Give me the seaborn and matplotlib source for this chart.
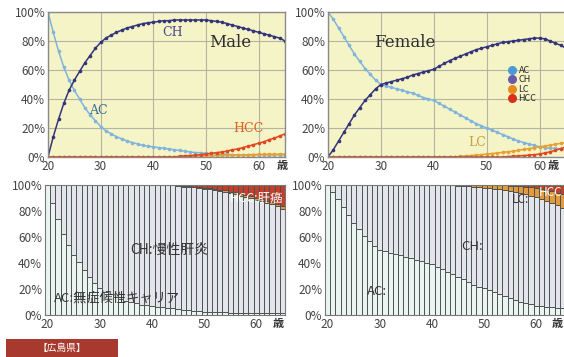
import matplotlib.pyplot as plt
from matplotlib.patches import Rectangle
from matplotlib.lines import Line2D
from matplotlib.ticker import PercentFormatter
import pandas as pd
import seaborn as sns

# ages 20..65, one value per year (% of carriers in each stage)
ages = list(range(20, 66))

male_ac = [100, 86, 73, 62, 53, 46, 40, 34, 29, 25,
           21, 18, 16, 14, 12.5, 11, 10, 9, 8, 7.5,
           7, 6.5, 6, 5.5, 5, 4.5, 4, 3.5, 3, 3,
           2.5, 2.5, 2, 2, 2, 1.5, 1.5, 1.5, 1.5, 1.5,
           1.5, 1.5, 1.5, 1.5, 1.5, 1.5]
male_ch = [0, 14, 26, 37, 46, 53, 59, 65, 70, 75,
           79, 82, 84, 86, 87.5, 89, 90, 91, 92, 92.5,
           93, 93.5, 94, 94, 94.5, 94.5, 94.5, 94.5, 94.5, 94.5,
           94.5, 94, 93.5, 93, 92, 91, 90, 89, 88, 87,
           86, 85, 84, 83, 82, 80]
male_lc = [0, 0, 0, 0, 0, 0, 0, 0, 0, 0,
           0, 0, 0, 0, 0, 0, 0, 0, 0, 0,
           0, 0, 0, 0, 0, 0.3, 0.4, 0.5, 0.6, 0.7,
           0.8, 0.9, 1, 1.1, 1.2, 1.3, 1.4, 1.5, 1.6, 1.7,
           1.8, 1.8, 1.9, 1.9, 2, 2]
male_hcc = [0, 0, 0, 0, 0, 0, 0, 0, 0, 0,
            0, 0, 0, 0, 0, 0, 0, 0, 0, 0,
            0, 0, 0, 0, 0, 0.5, 0.8, 1, 1.3, 1.6,
            2, 2.5, 3, 3.5, 4, 5, 5.5, 6.5, 7.5, 8.5,
            9.5, 10.5, 12, 13, 14.5, 16]

female_ac = [100, 95, 89, 83, 77, 71, 66, 61, 57, 53,
             50, 49, 48, 47, 46, 45, 44, 42.5, 41, 40,
             39, 37, 35, 33, 31, 29, 27, 25, 23, 21.5,
             20, 18.5, 17, 15.5, 14, 12.5, 11, 10, 9, 8,
             7, 6.5, 6, 6, 5.5, 5.5]
female_ch = [0, 5, 11, 17, 23, 29, 34, 39, 43, 47,
             50, 51, 52, 53, 54, 55, 56.5, 57.5, 58.5, 59.5,
             60.5, 62.5, 64.5, 66.5, 68, 69.5, 71, 72.5, 74, 75,
             76, 77, 78, 79, 79.5, 80, 80.5, 81, 81.5, 82,
             82, 81.5, 80, 78.5, 77, 75]
female_lc = [0, 0, 0, 0, 0, 0, 0, 0, 0, 0,
             0, 0, 0, 0, 0, 0, 0, 0, 0, 0,
             0, 0, 0, 0, 0, 0.5, 0.8, 1, 1.3, 1.6,
             2, 2.4, 2.8, 3.2, 3.6, 4, 4.6, 5.2, 5.8, 6.4,
             7, 7.6, 8.2, 8.8, 9.4, 10]
female_hcc = [0, 0, 0, 0, 0, 0, 0, 0, 0, 0,
              0, 0, 0, 0, 0, 0, 0, 0, 0, 0,
              0, 0, 0, 0, 0, 0, 0, 0, 0, 0,
              0, 0, 0, 0, 0.3, 0.5, 0.8, 1, 1.3, 1.6,
              2, 2.8, 3.6, 4.6, 5.8, 7]

stages = ['AC', 'CH', 'LC', 'HCC']
line_colors = {'AC': '#80b4de', 'CH': '#34347c', 'LC': '#e8a030', 'HCC': '#e2461c'}
dot_colors = {'AC': '#4a9ad8', 'CH': '#6a5aa8', 'LC': '#e88a20', 'HCC': '#d8301a'}
bar_colors = {'AC': '#eaf4f0', 'CH': '#e4e4ec', 'LC': '#e49a3c', 'HCC': '#c43e2c'}


def to_long(ac, ch, lc, hcc):
    df = pd.DataFrame({'age': ages, 'AC': ac, 'CH': ch, 'LC': lc, 'HCC': hcc})
    return df.melt(id_vars='age', var_name='stage', value_name='pct')


male = to_long(male_ac, male_ch, male_lc, male_hcc)
female = to_long(female_ac, female_ch, female_lc, female_hcc)

sns.set_style('white')
plt.rcParams['font.family'] = ['Noto Sans CJK JP', 'DejaVu Sans']

fig = plt.figure(figsize=(5.64, 3.57), dpi=100)
ax1 = fig.add_axes([48/564, 1-157/357, 237/564, 145/357])
ax2 = fig.add_axes([328/564, 1-157/357, 238/564, 145/357])
ax3 = fig.add_axes([45/564, 1-315/357, 240/564, 130/357])
ax4 = fig.add_axes([325/564, 1-315/357, 240/564, 130/357])

# top: line charts
for ax, df in [(ax1, male), (ax2, female)]:
    ax.set_facecolor('#f5f4c6')
    sns.lineplot(data=df, x='age', y='pct', hue='stage', hue_order=stages,
                 palette=line_colors, marker='o', markersize=2.6,
                 markeredgewidth=0, linewidth=1.1, legend=False, ax=ax)
    ax.set_xlim(20, 65)
    ax.set_ylim(0, 100)
    ax.set_yticks([0, 20, 40, 60, 80, 100])
    ax.yaxis.set_major_formatter(PercentFormatter(100, decimals=0))
    ax.set_xticks([20, 30, 40, 50, 60])
    ax.grid(True, color='#b4b4a4', linewidth=0.8)
    ax.set_xlabel('')
    ax.set_ylabel('')
    for s in ax.spines.values():
        s.set_color('#8a8a8a')
        s.set_linewidth(1)

# bottom: stacked proportion bars
for ax, df in [(ax3, male), (ax4, female)]:
    sns.histplot(data=df, x='age', weights='pct', hue='stage',
                 hue_order=['HCC', 'LC', 'CH', 'AC'], multiple='fill',
                 discrete=True, shrink=1, palette=bar_colors, alpha=1,
                 edgecolor='#4e5450', linewidth=0.7, legend=False, ax=ax)
    ax.set_xlim(19.5, 65.5)
    ax.set_ylim(0, 1)
    ax.set_yticks([0, 0.2, 0.4, 0.6, 0.8, 1.0])
    ax.yaxis.set_major_formatter(PercentFormatter(1, decimals=0))
    ax.set_xticks([20, 30, 40, 50, 60])
    ax.set_xlabel('')
    ax.set_ylabel('')
    for s in ax.spines.values():
        s.set_color('#777777')
        s.set_linewidth(0.8)

# "歳" unit after the last tick
for ax, xpos in [(ax1, 64.4), (ax2, 62.6), (ax3, 64.3), (ax4, 64.1)]:
    ax.tick_params(length=0, labelsize=8.5, pad=2, labelcolor='#444444')
    ax.text(xpos, -0.015, '歳', transform=ax.get_xaxis_transform(),
            ha='center', va='top', fontsize=8, fontweight='bold', color='#333333')

serif = 'DejaVu Serif'
ax1.text(43.7, 86, 'CH', color='#4b4b8c', fontsize=9, family=serif, ha='center', va='center')
ax1.text(54.5, 79, 'Male', color='#2e2e2e', fontsize=12, family=serif, ha='center', va='center')
ax1.text(29.5, 32, 'AC', color='#3a6e98', fontsize=9, family=serif, ha='center', va='center')
ax1.text(58, 20, 'HCC', color='#e0601c', fontsize=9, family=serif, ha='center', va='center')

ax2.text(34.5, 79, 'Female', color='#2e2e2e', fontsize=12, family=serif, ha='center', va='center')
ax2.text(48.3, 10, 'LC', color='#c8a040', fontsize=9, family=serif, ha='center', va='center')
handles = [Line2D([], [], marker='o', linestyle='', markersize=6.5,
                  markerfacecolor=dot_colors[s], markeredgewidth=0) for s in stages]
ax2.legend(handles, stages, loc='upper left', bbox_to_anchor=(0.74, 0.66),
           frameon=False, fontsize=6.5, handlelength=0.8, handletextpad=0.3,
           labelspacing=0.05, borderpad=0)

ax3.text(43.4, 0.50, 'CH:慢性肝炎', color='#333333', fontsize=10, ha='center', va='center')
ax3.text(33.3, 0.13, 'AC:無症候性キャリア', color='#333333', fontsize=9.5, ha='center', va='center')
ax3.text(60, 0.90, 'HCC:肝癌', color='white', fontsize=9, ha='center', va='center')

ax4.text(47.7, 0.53, 'CH:', color='#333333', fontsize=9.5, ha='center', va='center')
ax4.text(29.5, 0.18, 'AC:', color='#333333', fontsize=9.5, ha='center', va='center')
ax4.text(56.9, 0.89, 'LC:', color='#333333', fontsize=8.5, ha='center', va='center')
ax4.text(62.8, 0.94, 'HCC', color='white', fontsize=8.5, ha='center', va='center')

# red prefecture tag
fig.patches.append(Rectangle((6/564, 0), 112/564, 18/357, transform=fig.transFigure,
                             facecolor='#a8392f', edgecolor='none'))
fig.text(62/564, 9/357, '【広島県】', color='white', fontsize=7, ha='center', va='center')

fig.savefig('out.png', dpi=100, facecolor='white')
